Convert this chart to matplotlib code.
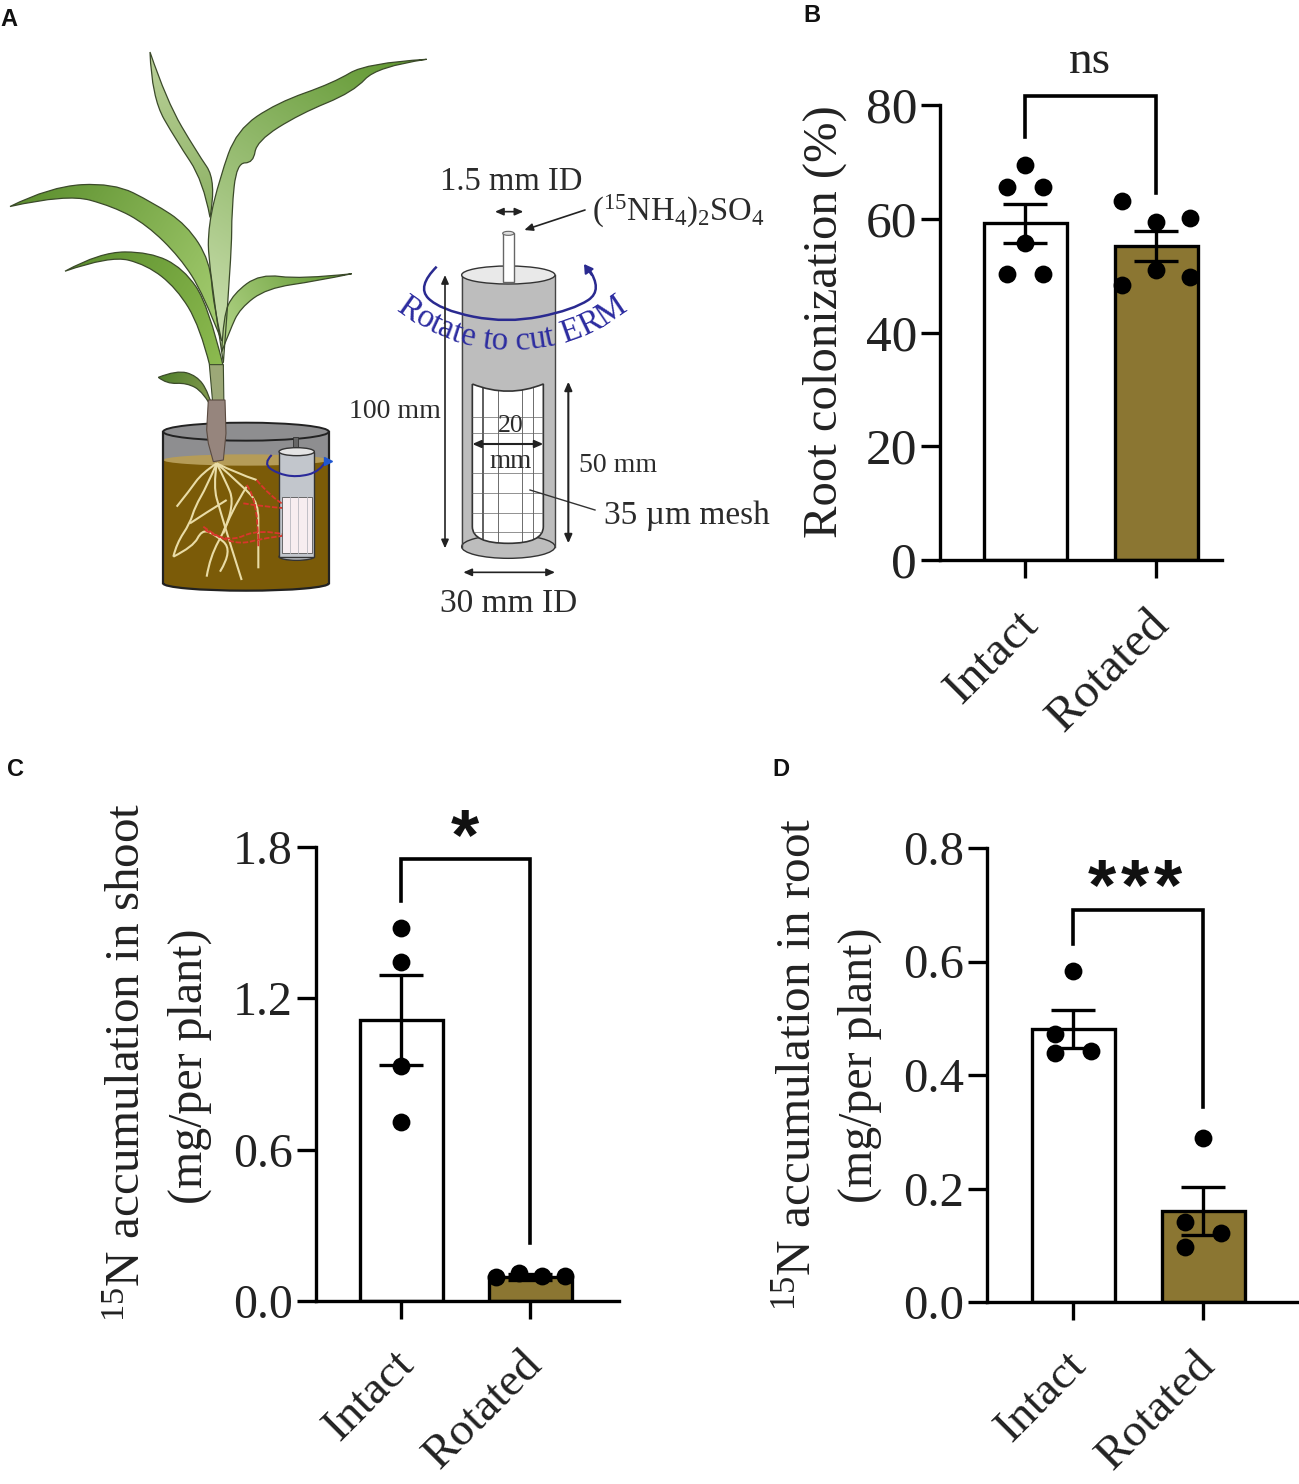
import numpy as np
import matplotlib
matplotlib.use("Agg")
import matplotlib.pyplot as plt
from matplotlib.colors import to_rgb
from matplotlib.patches import Ellipse, PathPatch, Polygon, Rectangle
from matplotlib.path import Path
from matplotlib.transforms import ScaledTranslation

plt.rcParams["font.family"] = ["Liberation Serif", "DejaVu Serif"]
plt.rcParams["mathtext.fontset"] = "custom"
plt.rcParams["mathtext.rm"] = "Liberation Serif"
plt.rcParams["mathtext.it"] = "Liberation Serif:italic"
plt.rcParams["mathtext.bf"] = "Liberation Serif:bold"
plt.rcParams["axes.linewidth"] = 2.3

W, H = 1299, 1484

# ---- data ----
categories = ["Intact", "Rotated"]
bar_colors = ["white", "#8B7632"]

b_means = [59.2, 55.2]
b_sem = [3.4, 2.6]
b_intact = [69.4, 65.5, 65.5, 55.8, 50.2, 50.2]
b_intact_dx = [0, -0.14, 0.14, 0, -0.14, 0.14]
b_rotated = [63.2, 59.5, 60.2, 51.0, 48.4, 49.8]
b_rotated_dx = [-0.26, 0, 0.26, 0, -0.26, 0.26]
b_bracket = [74.3, 81.5, 64.6]
b_ticks = [0, 20, 40, 60, 80]

c_means = [1.114, 0.095]
c_sem = [0.178, 0.012]
c_intact = [1.479, 1.344, 0.932, 0.71]
c_intact_dx = [0, 0, 0, 0]
c_rotated = [0.095, 0.11, 0.10, 0.10]
c_rotated_dx = [-0.26, -0.085, 0.093, 0.27]
c_bracket = [1.586, 1.752, 0.23]
c_ticks = [0.0, 0.6, 1.2, 1.8]

d_means = [0.481, 0.160]
d_sem = [0.034, 0.042]
d_intact = [0.583, 0.472, 0.438, 0.442]
d_intact_dx = [0, -0.14, -0.14, 0.14]
d_rotated = [0.289, 0.141, 0.122, 0.097]
d_rotated_dx = [0, -0.14, 0.14, -0.14]
d_bracket = [0.63, 0.69, 0.344]
d_ticks = [0.0, 0.2, 0.4, 0.6, 0.8]

fig = plt.figure(figsize=(W / 100, H / 100), dpi=100, facecolor="white")

# overlay in pixel coordinates for the drawing in panel A and the free text
ov = fig.add_axes([0, 0, 1, 1], zorder=0)
ov.set_xlim(0, W)
ov.set_ylim(H, 0)
ov.axis("off")


# ---- helpers for panel A ----
def z1(pts):
    # crop 1 of the plant: x/3, y squeezed
    return [(x / 3, 28.4 + 0.3635 * y) for x, y in pts]


def z2(pts):
    # crop of the cylinder
    return [(340 + x / 3, 160 + y / 3) for x, y in pts]


def z7(pts):
    # crop of the pot
    return [(130 + x / 3, 400 + y / 3) for x, y in pts]


def smooth_codes(pts):
    verts, codes = [pts[0]], [Path.MOVETO]
    for i in range(1, len(pts) - 1):
        p, q = np.array(pts[i]), np.array(pts[i + 1])
        mid = q if i == len(pts) - 2 else (p + q) / 2
        verts += [tuple(p), tuple(mid)]
        codes += [Path.CURVE3, Path.CURVE3]
    return verts, codes


def smooth_line(pts, **kw):
    v, c = smooth_codes(pts)
    ov.add_patch(PathPatch(Path(v, c), fill=False, **kw))


def leaf(edge1, edge2, c_tip, c_base, lw=0.9):
    # two edges from tip to base, filled with a linear gradient
    v1, c1 = smooth_codes(edge1)
    v2, c2 = smooth_codes(edge2[::-1])
    verts = v1 + [v2[0]] + v2[1:] + [v1[0]]
    codes = c1 + [Path.LINETO] + c2[1:] + [Path.CLOSEPOLY]
    patch = PathPatch(Path(verts, codes), facecolor="none", edgecolor="#3b4a2a", lw=lw, zorder=3)
    ov.add_patch(patch)
    arr = np.array(verts)
    x0, x1, y0, y1 = arr[:, 0].min(), arr[:, 0].max(), arr[:, 1].min(), arr[:, 1].max()
    xx, yy = np.meshgrid(np.linspace(x0, x1, 80), np.linspace(y0, y1, 80))
    tip, base = np.array(edge1[0]), np.array(edge1[-1])
    d = base - tip
    t = np.clip(((xx - tip[0]) * d[0] + (yy - tip[1]) * d[1]) / (d @ d), 0, 1)[..., None]
    img = np.array(to_rgb(c_tip)) * (1 - t) + np.array(to_rgb(c_base)) * t
    im = ov.imshow(img, extent=(x0, x1, y1, y0), aspect="auto", zorder=2.5, interpolation="bilinear")
    im.set_clip_path(patch)


def arrow2(p, q, color="#222222", lw=1.2, both=True):
    style = "<|-|>" if both else "-|>"
    ov.annotate("", xy=q, xytext=p, arrowprops=dict(arrowstyle=style + ",head_width=0.22,head_length=0.5",
                                                    color=color, lw=lw, shrinkA=0, shrinkB=0))


# ---- plant ----
leaf(z1([(450, 65), (455, 190), (530, 310), (610, 420), (630, 520)]),
     z1([(450, 65), (500, 200), (590, 340), (650, 420), (630, 520)]), "#BBD19A", "#8DB264")
leaf(z1([(1280, 85), (1100, 95), (1000, 150), (830, 205), (710, 280), (660, 410), (625, 540), (625, 650), (670, 920)]),
     z1([(1280, 85), (1130, 105), (1060, 175), (900, 235), (770, 310), (760, 370), (710, 370), (695, 500), (695, 620), (670, 920)]),
     "#5E962E", "#CFE2B4")
leaf(z1([(195, 668), (300, 615), (450, 615), (550, 660), (625, 760), (670, 930)]),
     z1([(195, 668), (330, 625), (440, 650), (530, 715), (600, 820), (630, 930)]), "#5C8F2E", "#8DBB50")
leaf(z1([(30, 490), (150, 435), (340, 425), (460, 480), (560, 540), (630, 640), (640, 760), (665, 860)]),
     z1([(30, 490), (200, 455), (340, 490), (440, 540), (540, 630), (610, 730), (665, 860)]), "#5C8F2E", "#A7CF72")
leaf(z1([(1055, 675), (900, 690), (780, 675), (700, 730), (670, 790), (665, 890)]),
     z1([(1055, 675), (950, 695), (800, 715), (720, 770), (690, 830), (665, 890)]), "#5E962E", "#B5D68A")
leaf(z1([(475, 960), (530, 940), (590, 955), (625, 1000), (640, 1050)]),
     z1([(475, 960), (500, 978), (560, 975), (610, 1000), (640, 1050)]), "#4F7F2A", "#8B9E55")
ov.add_patch(Polygon(z1([(628, 925), (670, 925), (672, 1050), (640, 1050)]), fc="#9CA877", ec="#3b4a2a", lw=0.8, zorder=3))

# pot in the crop of the lower left
cx, cy = z7([(348, 95)])[0]
bx, by = z7([(348, 550)])[0]
ov.add_patch(Rectangle((130 + 100 / 3, cy), 497 / 3, by - cy, fc="#8E8E90", ec="none", zorder=1))
ov.add_patch(Ellipse((cx, cy), 497 / 3, 54 / 3, fc="#8E8E90", ec="#222222", lw=1.4, zorder=1))
soil_top = z7([(0, 180)])[0][1]
ov.add_patch(Rectangle((130 + 100 / 3, soil_top), 497 / 3, by - soil_top, fc="#7B5B08", ec="none", zorder=1.2))
ov.add_patch(Ellipse((bx, by), 497 / 3, 44 / 3, fc="#7B5B08", ec="#222222", lw=1.6, zorder=1.1))
ov.add_patch(Ellipse((cx, soil_top), 497 / 3, 34 / 3, fc="#B59C58", ec="none", zorder=1.3))
for side in (100, 597):
    ov.plot(*zip(*z7([(side, 95), (side, 550)])), color="#222222", lw=1.6, zorder=1.4)

ov.add_patch(Polygon(z7([(235, 0), (285, 0), (288, 100), (280, 180), (250, 185), (235, 130), (230, 90)]),
                     fc="#96857D", ec="#5a4a40", lw=0.8, zorder=4))

roots = [
    [(260, 190), (215, 220), (180, 270), (140, 320)],
    [(260, 190), (230, 260), (195, 320), (180, 370), (140, 430), (130, 470)],
    [(260, 190), (250, 260), (270, 330), (300, 430), (335, 540)],
    [(260, 190), (290, 250), (310, 300), (290, 380), (240, 470), (230, 530)],
    [(260, 190), (320, 220), (380, 240)],
    [(260, 190), (340, 260), (385, 310), (385, 400), (385, 505)],
    [(180, 370), (225, 340), (290, 300)],
    [(130, 470), (190, 440), (215, 390), (250, 400), (310, 450), (270, 515)],
    [(350, 260), (300, 340), (280, 400)],
    [(365, 390), (310, 450)],
]
for r in roots:
    smooth_line(z7(r), edgecolor="#E9DCA6", lw=1.5, zorder=4)
red_lines = [
    [(380, 240), (420, 290), (470, 320)],
    [(340, 310), (400, 320), (470, 325)],
    [(220, 380), (300, 440), (420, 410), (520, 400)],
    [(400, 470), (450, 490)],
    [(385, 300), (340, 250)],
    [(350, 255), (385, 300), (385, 440)],
    [(225, 390), (290, 430), (390, 385), (470, 405)],
    [(215, 350), (250, 300)],
]
for r in red_lines:
    smooth_line(z7(r), edgecolor="#D8362B", lw=1.3, ls=(0, (3, 1)), zorder=4.2)

# small cylinder in the pot
ov.add_patch(Polygon(z7([(490, 110), (505, 110), (505, 160), (490, 160)]), fc="#666666", ec="#333333", lw=0.6, zorder=4))
ov.add_patch(Rectangle(z7([(447, 155)])[0], 106 / 3, 315 / 3, fc="#C2C6CC", ec="#333333", lw=1, zorder=4))
ov.add_patch(Ellipse(z7([(500, 155)])[0], 106 / 3, 24 / 3, fc="#E4E4E4", ec="#333333", lw=1, zorder=4.1))
ov.add_patch(Rectangle(z7([(455, 290)])[0], 90 / 3, 170 / 3, fc="#F7EDF0", ec="#555555", lw=0.6, zorder=4.2))
for gx in (480, 505, 530):
    ov.plot(*zip(*z7([(gx, 292), (gx, 458)])), color="#B8B8C0", lw=0.6, zorder=4.3)
ov.add_patch(Ellipse(z7([(500, 470)])[0], 106 / 3, 22 / 3, fc="#C2C6CC", ec="#333333", lw=1, zorder=3.9))
for r in [[(455, 305), (500, 320)], [(455, 330), (500, 345)], [(455, 355), (500, 370)], [(450, 405), (520, 400)]]:
    smooth_line(z7(r), edgecolor="#C9605F", lw=1, zorder=4.4)
smooth_line(z7([(425, 165), (400, 190), (440, 220), (500, 232), (570, 215), (590, 180)]), edgecolor="#2A2A9A", lw=1.5, zorder=4.6)
ov.plot(*z7([(593, 182)])[0], marker=">", ms=6, color="#1F57D0", zorder=4.7)

# ---- cylinder on the right of panel A ----
ov.add_patch(Polygon(z2([(365, 345), (645, 345), (645, 1165), (505, 1195), (365, 1165)]), fc="#BDBDBD", ec="none", zorder=1))
ov.add_patch(Ellipse(z2([(505, 1160)])[0], 280 / 3, 70 / 3, fc="#BDBDBD", ec="#333333", lw=1, zorder=1))
for sx in (365, 645):
    ov.plot(*zip(*z2([(sx, 345), (sx, 1160)])), color="#444444", lw=1, zorder=1.2)
ov.add_patch(Ellipse(z2([(505, 345)])[0], 280 / 3, 54 / 3, fc="#E9E9E9", ec="#333333", lw=1, zorder=1.2))
ov.add_patch(Polygon(z2([(488, 220), (522, 220), (522, 365), (488, 365)]), fc="white", ec="#666666", lw=1, zorder=1.3))
ov.add_patch(Ellipse(z2([(505, 220)])[0], 34 / 3, 12 / 3, fc="#DDDDDD", ec="#666666", lw=0.8, zorder=1.4))

win_l, win_r, win_t, win_b = 397, 610, 672, 1150
window = PathPatch(Path(z2([(win_l, win_t), (win_l, 1100), (win_l, win_b), (505, win_b), (win_r, win_b), (win_r, 1100),
                            (win_r, win_t), (505, 715), (win_l, win_t)]),
                        [Path.MOVETO, Path.LINETO, Path.CURVE3, Path.CURVE3, Path.CURVE3, Path.CURVE3,
                         Path.LINETO, Path.CURVE3, Path.CURVE3]),
                   fc="white", ec="#333333", lw=1.2, zorder=1.5)
ov.add_patch(window)
for gx, glw in [(428, 1.1), (475, 0.5), (545, 0.5), (580, 0.5)]:
    ln, = ov.plot(*zip(*z2([(gx, 670), (gx, 1150)])), color="#333333", lw=glw, zorder=1.6)
    ln.set_clip_path(window)
for gy in (770, 820, 940, 1000, 1060, 1115):
    ln, = ov.plot(*zip(*z2([(397, gy), (610, gy)])), color="#666666", lw=0.5, zorder=1.6)
    ln.set_clip_path(window)

# blue rotation arrow and curved text
smooth_line(z2([(290, 320), (230, 380), (300, 450), (500, 490), (700, 450), (790, 390), (745, 325)]), edgecolor="#2A2A90", lw=1.8, zorder=2)
ov.annotate("", xy=z2([(732, 312)])[0], xytext=z2([(755, 345)])[0],
            arrowprops=dict(arrowstyle="-|>,head_width=0.3,head_length=0.5", color="#2A2A90", lw=1.5, shrinkA=0, shrinkB=0))

rot_text = "Rotate to cut ERM"
renderer = fig.canvas.get_renderer()
rot_size = 24
rot_w = []
for ch in rot_text:
    t = ov.text(0, 0, "n" + ch + "n", fontsize=rot_size)
    w1 = t.get_window_extent(renderer).width
    t.set_text("nn")
    rot_w.append(w1 - t.get_window_extent(renderer).width)
    t.remove()
arc_c = np.array(z2([(515, 8)])[0])
arc_r = 562 / 3
s = -sum(rot_w) / 2
for ch, w in zip(rot_text, rot_w):
    ang = (s + w / 2) / arc_r
    ov.text(arc_c[0] + arc_r * np.sin(ang), arc_c[1] + arc_r * np.cos(ang), ch, fontsize=rot_size, color="#2C2CA0",
            rotation=np.degrees(ang), rotation_mode="anchor", ha="center", va="baseline", zorder=2.2)
    s += w

# dimension arrows
arrow2(z2([(465, 155)])[0], z2([(550, 155)])[0])
arrow2(z2([(735, 150)])[0], z2([(553, 210)])[0], both=False)
arrow2(z2([(315, 345)])[0], z2([(315, 1165)])[0])
arrow2(z2([(685, 665)])[0], z2([(685, 1150)])[0], lw=1.5)
arrow2(z2([(397, 852)])[0], z2([(610, 852)])[0], lw=1.5)
arrow2(z2([(370, 1237)])[0], z2([(645, 1237)])[0])
ov.plot(*zip(*z2([(570, 990), (765, 1050)])), color="#333333", lw=1, zorder=2)

dark = "#2b2b2b"
ov.text(*z2([(515, 65)])[0], "1.5 mm ID", fontsize=23.5, ha="center", va="center", color=dark)
ov.text(*z2([(755, 155)])[0], r"$\mathrm{(^{15}NH_4)_2SO_4}$", fontsize=23.5, ha="left", va="center", color=dark)
ov.text(*z2([(165, 755)])[0], "100 mm", fontsize=20, ha="center", va="center", color=dark)
ov.text(*z2([(835, 918)])[0], "50 mm", fontsize=20, ha="center", va="center", color=dark)
ov.text(*z2([(1040, 1068)])[0], "35 µm mesh", fontsize=24, ha="center", va="center", color=dark)
ov.text(*z2([(505, 1330)])[0], "30 mm ID", fontsize=24, ha="center", va="center", color=dark)
ov.text(*z2([(512, 797)])[0], "20", fontsize=18.5, ha="center", va="center", color=dark, zorder=3)
ov.text(*z2([(512, 905)])[0], "mm", fontsize=19.5, ha="center", va="center", color=dark, zorder=3)

# panel letters
for letter, lx, ly in [("A", 0, 20), ("B", 803, 16), ("C", 7, 770), ("D", 772, 770)]:
    ov.text(lx, ly, letter, fontsize=17, fontweight="bold", family="Liberation Sans", ha="left", va="center", color="#111111")


# ---- bar panels ----
def bar_panel(left, bottom, top, right, c0, c1, ymax, ticks, ticklabels, means, sem, intact, intact_dx,
              rotated, rotated_dx, bracket, tick_size, xlab_size, bar_px=83, lw=2.4):
    gap = c1 - c0
    ax = fig.add_axes([left / W, 1 - bottom / H, (right - left) / W, (bottom - top) / H], zorder=2)
    ax.patch.set_alpha(0)
    ax.set_xlim((left - c0) / gap, (right - c0) / gap)
    ax.set_ylim(0, ymax)
    x = np.arange(len(categories))
    ax.bar(x, means, width=bar_px / gap, color=bar_colors, edgecolor="black", linewidth=lw, zorder=2)
    ax.scatter(np.array(intact_dx), intact, s=165, color="black", zorder=3, clip_on=False, linewidths=0)
    ax.scatter(1 + np.array(rotated_dx), rotated, s=165, color="black", zorder=3, clip_on=False, linewidths=0)
    ax.errorbar(x, means, yerr=sem, fmt="none", ecolor="black", elinewidth=lw, capsize=16, capthick=lw, zorder=4)
    ax.plot([0, 0, 1, 1], [bracket[0], bracket[1], bracket[1], bracket[2]], color="black", lw=lw + 0.2,
            clip_on=False, solid_joinstyle="miter", zorder=4)
    for s in ("top", "right"):
        ax.spines[s].set_visible(False)
    for s in ("left", "bottom"):
        ax.spines[s].set_linewidth(lw)
    ax.set_yticks(ticks)
    ax.set_yticklabels(ticklabels, fontsize=tick_size, color="#222222")
    ax.set_xticks(x)
    ax.set_xticklabels(categories, fontsize=xlab_size, rotation=45, ha="right", va="top",
                       rotation_mode="anchor", color="#222222")
    ax.tick_params(axis="y", length=14, width=lw, pad=2.5)
    ax.tick_params(axis="x", length=13, width=lw, pad=3)
    # the rotated labels sit lower and further left than the default anchor
    shift = ScaledTranslation(-9 / 100, -20 / 100, fig.dpi_scale_trans)
    for lab in ax.get_xticklabels():
        lab.set_transform(lab.get_transform() + shift)
    return ax


bar_panel(940, 560, 105, 1222, 1025, 1156, 80, b_ticks, [str(t) for t in b_ticks], b_means, b_sem,
          b_intact, b_intact_dx, b_rotated, b_rotated_dx, b_bracket, 37, 35)
bar_panel(316, 1301, 847, 619, 401, 530, 1.8, c_ticks, [f"{t:.1f}" for t in c_ticks], c_means, c_sem,
          c_intact, c_intact_dx, c_rotated, c_rotated_dx, c_bracket, 34.5, 34)
bar_panel(987, 1302, 848, 1297, 1073, 1203, 0.8, d_ticks, [f"{t:.1f}" for t in d_ticks], d_means, d_sem,
          d_intact, d_intact_dx, d_rotated, d_rotated_dx, d_bracket, 35, 34)

# axis titles and significance marks
grey = "#222222"
title_kw = dict(rotation=90, rotation_mode="anchor", ha="center", va="baseline", color=grey)
ov.text(825, 322, "Root colonization (%)", fontsize=35, rotation=90, ha="center", va="center", color=grey)
ov.text(140, 1062, r"$\mathrm{^{15}N}$ accumulation in shoot", fontsize=35.4, **title_kw)
ov.text(202, 1066, "(mg/per plant)", fontsize=34.5, **title_kw)
ov.text(810, 1064, r"$\mathrm{^{15}N}$ accumulation in root", fontsize=35.5, **title_kw)
ov.text(872, 1065, "(mg/per plant)", fontsize=34.5, **title_kw)
ov.text(1090, 62, "ns", fontsize=34, ha="center", va="center", color=grey)
ov.text(465, 840, "*", fontsize=52, family="Liberation Sans", fontweight="bold", ha="center", va="center", color="#111111")
for sx in (1102, 1135, 1168):
    ov.text(sx, 890, "*", fontsize=52, family="Liberation Sans", fontweight="bold", ha="center", va="center", color="#111111")

ov.set_xlim(0, W)
ov.set_ylim(H, 0)
fig.savefig("out.png", dpi=100)
